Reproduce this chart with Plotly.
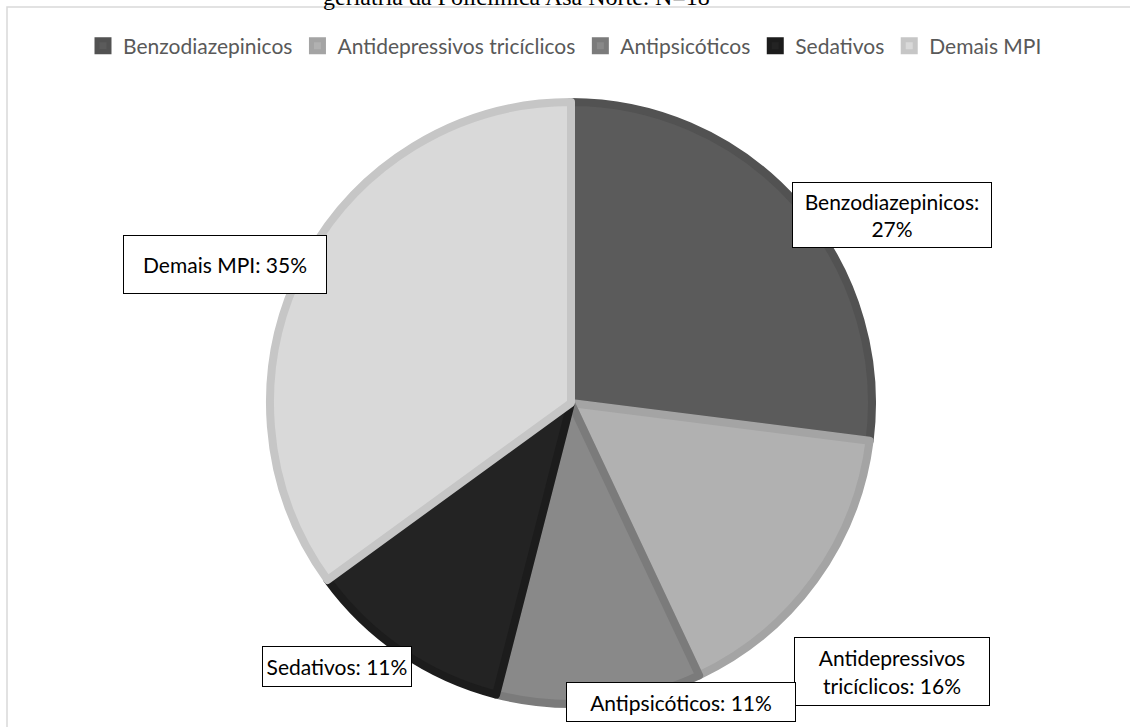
import plotly.graph_objects as go

categories = ["Benzodiazepinicos", "Antidepressivos tricíclicos", "Antipsicóticos", "Sedativos", "Demais MPI"]
values = [27, 16, 11, 11, 35]
label_texts = ["Benzodiazepinicos:<br>27%", "Antidepressivos<br>tricíclicos: 16%", "Antipsicóticos: 11%", "Sedativos: 11%", "Demais MPI: 35%"]
fill_colors = ["#5b5b5b", "#b1b1b1", "#898989", "#232323", "#d9d9d9"]
edge_colors = ["#525252", "#a4a4a4", "#7b7b7b", "#1c1c1c", "#c6c6c6"]
title_text = "geriatria da Policlínica Asa Norte. N=18"

W, H = 1130, 727
cx, cy, r = 571, 403, 301

fig = go.Figure()
fig.add_trace(go.Pie(
    labels=categories,
    values=values,
    sort=False,
    direction="clockwise",
    rotation=0,
    textinfo="none",
    hoverinfo="label+percent",
    marker=dict(colors=fill_colors, line=dict(color=edge_colors, width=8)),
    domain=dict(x=[(cx - r) / W, (cx + r) / W], y=[(H - cy - r) / H, (H - cy + r) / H]),
))

# label boxes: center x, center y, width, height (px)
label_boxes = [(892, 215, 200, 66), (892, 671, 196, 69), (681, 702, 230, 40), (337, 666, 150, 41), (225, 264, 204, 59)]
for txt, (px, py, bw, bh) in zip(label_texts, label_boxes):
    fig.add_annotation(
        x=px / W, y=1 - py / H, xref="paper", yref="paper",
        text=txt, showarrow=False, align="center", valign="middle",
        width=bw - 2, height=bh - 2,
        font=dict(family="Lato, Open Sans, sans-serif", size=21, color="#000000"),
        bgcolor="#ffffff", bordercolor="#000000", borderwidth=1, borderpad=0,
        xanchor="center", yanchor="middle",
    )

fig.add_annotation(
    x=516 / W, y=1 - 12 / H, xref="paper", yref="paper",
    text=title_text, showarrow=False,
    font=dict(family="Liberation Serif, serif", size=24, color="#000000"),
    xanchor="center", yanchor="bottom",
)

fig.add_shape(type="rect", xref="paper", yref="paper",
              x0=7 / W, x1=1.05, y0=-0.05, y1=1 - 7 / H,
              line=dict(color="#d9d9d9", width=1.5), fillcolor="rgba(0,0,0,0)")

fig.update_layout(
    width=W, height=H,
    margin=dict(l=0, r=0, t=0, b=0),
    paper_bgcolor="#ffffff", plot_bgcolor="#ffffff",
    showlegend=True,
    legend=dict(orientation="h", x=0.5, xanchor="center", y=1 - 46 / H, yanchor="middle",
                font=dict(family="Lato, Open Sans, sans-serif", size=21, color="#595959"),
                itemwidth=30, tracegroupgap=0, bgcolor="rgba(0,0,0,0)"),
)

fig.write_html("out.html")
